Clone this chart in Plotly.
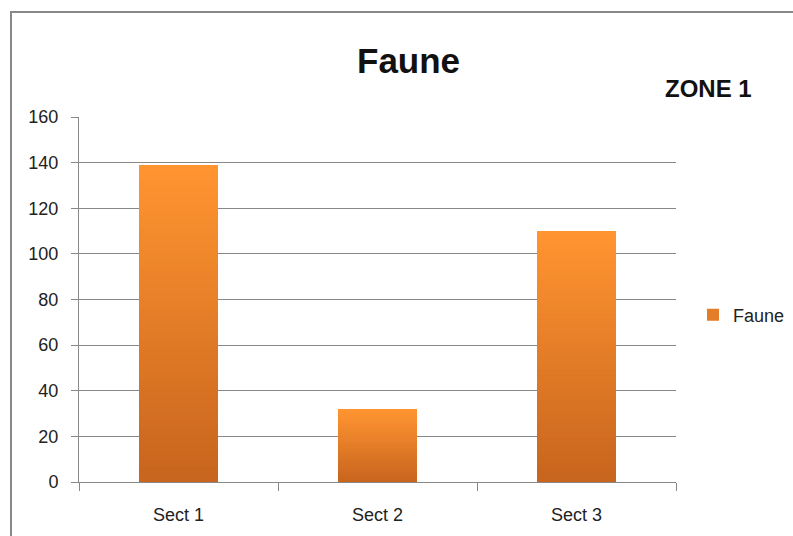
import plotly.graph_objects as go

categories = ["Sect 1", "Sect 2", "Sect 3"]
faune_values = [139, 32, 110]
y_ticks = [0, 20, 40, 60, 80, 100, 120, 140, 160]

W, H = 793, 536
L, R, T, B = 79, 676, 117, 482

def px_x(x):
    return (x - L) / (R - L)

def px_y(y):
    return (B - y) / (B - T)

def lerp(c1, c2, t):
    return "rgb(%d,%d,%d)" % tuple(round(a + (b - a) * t) for a, b in zip(c1, c2))

bottom_col = (200, 101, 30)
top_col = (255, 148, 48)
N = 40

fig = go.Figure()
for i in range(N):
    t = i / (N - 1)
    fig.add_trace(go.Bar(
        x=categories,
        y=[v / N for v in faune_values],
        marker=dict(color=lerp(bottom_col, top_col, t), line=dict(width=0)),
        name="Faune",
        showlegend=(i == N // 2),
        hoverinfo="skip",
    ))

font_family = "Liberation Sans Narrow, Liberation Sans, Arial, sans-serif"

fig.update_layout(
    width=W, height=H,
    margin=dict(l=L, r=W - R, t=T, b=H - B, autoexpand=False),
    paper_bgcolor="white",
    plot_bgcolor="white",
    barmode="stack",
    bargap=0.6,
    font=dict(family=font_family, size=18, color="#222"),
    legend=dict(
        x=px_x(693), y=px_y(315), xanchor="left", yanchor="middle",
        font=dict(size=18, color="#222"),
        itemwidth=30,
    ),
    xaxis=dict(
        range=[-0.5, 2.5],
        showline=True, linecolor="#888", linewidth=1,
        ticks="outside", ticklen=8, tickcolor="#888",
        tickson="boundaries",
        showgrid=False,
        ticklabelstandoff=16,
        tickfont=dict(size=18, color="#222"),
    ),
    yaxis=dict(
        range=[0, 160],
        tickvals=y_ticks,
        showline=True, linecolor="#888", linewidth=1,
        ticks="outside", ticklen=7, tickcolor="#888",
        showgrid=True, gridcolor="#888", gridwidth=1,
        zeroline=False,
        ticklabelstandoff=9,
        tickfont=dict(size=18, color="#222"),
    ),
    annotations=[
        dict(text="<b>Faune</b>", x=px_x(408), y=px_y(60), xref="paper", yref="paper",
             showarrow=False, font=dict(size=35, color="#111", family=font_family),
             xanchor="center", yanchor="middle"),
        dict(text="<b>ZONE 1</b>", x=px_x(708), y=px_y(88), xref="paper", yref="paper",
             showarrow=False, font=dict(size=24, color="#111", family=font_family),
             xanchor="center", yanchor="middle"),
    ],
    shapes=[
        dict(type="rect", xref="paper", yref="paper",
             x0=px_x(11), x1=px_x(810), y0=px_y(560), y1=px_y(12),
             line=dict(color="#888", width=2), fillcolor="rgba(0,0,0,0)", layer="below"),
    ],
)

fig.write_html("out.html", config={"displayModeBar": False},
               post_script="document.body.style.margin='0';document.body.style.overflow='hidden';")
